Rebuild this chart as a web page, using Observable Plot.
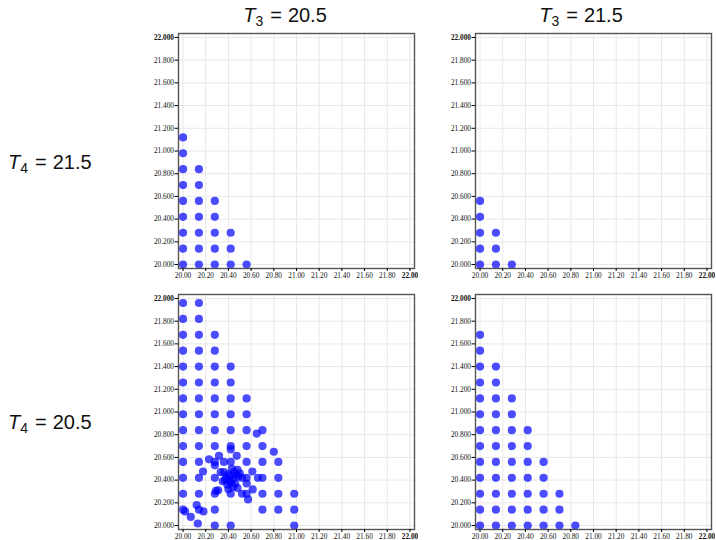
<!DOCTYPE html>
<html><head><meta charset="utf-8">
<script src="https://cdn.jsdelivr.net/npm/d3@7"></script>
<script src="https://cdn.jsdelivr.net/npm/@observablehq/plot@0.6"></script>
<style>
body{margin:0;background:#fff;}
#root{position:relative;width:716px;height:540px;overflow:hidden;}
.panel{position:absolute;}
#labels{position:absolute;left:0;top:0;}
</style></head><body><div id="root"></div>
<script>
// Column (T3) and row (T4) facet values
const colTitles = ["20.5", "21.5"];
const rowTitles = ["21.5", "20.5"];

// Tick values
const xTicks = [20.0, 20.2, 20.4, 20.6, 20.8, 21.0, 21.2, 21.4, 21.6, 21.8, 22.0];
const yTicks = [20.0, 20.2, 20.4, 20.6, 20.8, 21.0, 21.2, 21.4, 21.6, 21.8, 22.0];

// T3 = 20.5, T4 = 21.5
const pointsA = [
  [20.00,20.00],[20.00,20.14],[20.00,20.28],[20.00,20.42],[20.00,20.56],[20.00,20.70],[20.00,20.84],[20.00,20.98],[20.00,21.12],
  [20.14,20.00],[20.14,20.14],[20.14,20.28],[20.14,20.42],[20.14,20.56],[20.14,20.70],[20.14,20.84],
  [20.28,20.00],[20.28,20.14],[20.28,20.28],[20.28,20.42],[20.28,20.56],
  [20.42,20.00],[20.42,20.14],[20.42,20.28],
  [20.56,20.00]
];
// T3 = 21.5, T4 = 21.5
const pointsB = [
  [20.00,20.00],[20.00,20.14],[20.00,20.28],[20.00,20.42],[20.00,20.56],
  [20.14,20.00],[20.14,20.14],[20.14,20.28],
  [20.28,20.00]
];
// T3 = 20.5, T4 = 20.5
const pointsC = [
  [20.00,20.14],[20.00,20.28],[20.00,20.42],[20.00,20.56],[20.00,20.70],[20.00,20.84],[20.00,20.98],[20.00,21.12],[20.00,21.26],[20.00,21.40],[20.00,21.54],[20.00,21.68],[20.00,21.82],[20.00,21.96],
  [20.14,20.14],[20.14,20.28],[20.14,20.42],[20.14,20.56],[20.14,20.70],[20.14,20.84],[20.14,20.98],[20.14,21.12],[20.14,21.26],[20.14,21.40],[20.14,21.54],[20.14,21.68],[20.14,21.82],[20.14,21.96],
  [20.28,20.00],[20.28,20.14],[20.28,20.28],[20.28,20.42],[20.28,20.56],[20.28,20.70],[20.28,20.84],[20.28,20.98],[20.28,21.12],[20.28,21.26],[20.28,21.40],[20.28,21.54],[20.28,21.68],
  [20.42,20.00],[20.42,20.28],[20.42,20.56],[20.42,20.70],[20.42,20.84],[20.42,20.98],[20.42,21.12],[20.42,21.26],[20.42,21.40],
  [20.56,20.28],[20.56,20.42],[20.56,20.56],[20.56,20.70],[20.56,20.84],[20.56,20.98],[20.56,21.12],
  [20.70,20.14],[20.70,20.28],[20.70,20.42],[20.70,20.56],[20.70,20.70],[20.70,20.84],
  [20.84,20.14],[20.84,20.28],[20.84,20.42],[20.84,20.56],
  [20.98,20.00],[20.98,20.14],[20.98,20.28],
  // off-grid points
  [20.018,20.124],[20.12,20.18],[20.18,20.124],[20.068,20.076],[20.13,20.018],
  [20.29,20.305],[20.31,20.31],[20.35,20.39],[20.52,20.28],[20.573,20.23],[20.614,20.318],[20.561,20.37],
  [20.176,20.476],[20.332,20.47],[20.611,20.476],[20.66,20.42],
  [20.229,20.583],[20.317,20.614],[20.36,20.56],[20.473,20.614],[20.28,20.53],
  [20.42,20.67],[20.80,20.65],[20.65,20.81],
  // dense cluster
  [20.36,20.47],[20.38,20.42],[20.39,20.36],[20.40,20.45],[20.41,20.39],[20.42,20.44],[20.43,20.50],
  [20.44,20.41],[20.45,20.47],[20.46,20.37],[20.47,20.44],[20.48,20.49],[20.49,20.43],[20.50,20.46],
  [20.37,20.40],[20.44,20.34],[20.48,20.33],[20.40,20.32],[20.52,20.42],[20.42,20.38]
];
// T3 = 21.5, T4 = 20.5
const pointsD = [
  [20.00,20.00],[20.00,20.14],[20.00,20.28],[20.00,20.42],[20.00,20.56],[20.00,20.70],[20.00,20.84],[20.00,20.98],[20.00,21.12],[20.00,21.26],[20.00,21.40],[20.00,21.54],[20.00,21.68],
  [20.14,20.00],[20.14,20.14],[20.14,20.28],[20.14,20.42],[20.14,20.56],[20.14,20.70],[20.14,20.84],[20.14,20.98],[20.14,21.12],[20.14,21.26],[20.14,21.40],
  [20.28,20.00],[20.28,20.14],[20.28,20.28],[20.28,20.42],[20.28,20.56],[20.28,20.70],[20.28,20.84],[20.28,20.98],[20.28,21.12],
  [20.42,20.00],[20.42,20.14],[20.42,20.28],[20.42,20.42],[20.42,20.56],[20.42,20.70],[20.42,20.84],
  [20.56,20.00],[20.56,20.14],[20.56,20.28],[20.56,20.42],[20.56,20.56],
  [20.70,20.00],[20.70,20.14],[20.70,20.28],
  [20.84,20.00]
];

const root = document.getElementById("root");

function panel(points, left, top) {
  const chart = Plot.plot({
    width: 278, height: 253,
    marginLeft: 38, marginRight: 4, marginTop: 4, marginBottom: 14,
    style: {fontFamily: "'Liberation Serif', 'DejaVu Serif', serif", fontSize: "7.3px", color: "#111", background: "transparent"},
    x: {domain: [19.96, 22.04]},
    y: {domain: [19.965, 22.035]},
    marks: [
      Plot.ruleX(xTicks, {stroke: "#e8e8e8", strokeWidth: 1}),
      Plot.ruleY(yTicks, {stroke: "#e8e8e8", strokeWidth: 1}),
      Plot.dot(points, {x: d => d[0], y: d => d[1], r: 4.1, fill: "#0000ff", fillOpacity: 0.7}),
      Plot.frame({stroke: "#555", strokeWidth: 1.4}),
      Plot.axisX({ticks: xTicks, tickFormat: d => d.toFixed(2), tickSize: 3, tickPadding: 1.5, label: null, stroke: "#000"}),
      Plot.axisY({ticks: yTicks, tickFormat: d => d.toFixed(3), tickSize: 3.5, tickPadding: 1, label: null, stroke: "#000"})
    ]
  });
  d3.select(chart).selectAll("text")
    .filter(function() { return this.textContent === "22.000" || this.textContent === "22.00"; })
    .attr("font-weight", "bold");
  const div = document.createElement("div");
  div.className = "panel";
  div.style.left = left + "px";
  div.style.top = top + "px";
  div.appendChild(chart);
  root.appendChild(div);
}

panel(pointsA, 140, 29);
panel(pointsB, 436.5, 29);
panel(pointsC, 140, 289.5);
panel(pointsD, 436.5, 289.5);

// Facet titles
const svg = d3.select(root).append("svg").attr("id", "labels")
  .attr("width", 716).attr("height", 540)
  .style("font-family", "'Liberation Sans', 'DejaVu Sans', sans-serif")
  .style("font-size", "20px").attr("fill", "#111");

function mathLabel(x, y, sub, value, anchor) {
  const t = svg.append("text").attr("x", x).attr("y", y).attr("text-anchor", anchor);
  t.append("tspan").attr("font-style", "italic").text("T");
  t.append("tspan").attr("font-size", "14px").attr("dy", 4).text(sub);
  t.append("tspan").attr("dy", -4).attr("dx", 7).text("=");
  t.append("tspan").attr("dx", 6).text(value);
}
mathLabel(285, 22, "3", colTitles[0], "middle");
mathLabel(581, 22, "3", colTitles[1], "middle");
mathLabel(8, 169, "4", rowTitles[0], "start");
mathLabel(8, 429, "4", rowTitles[1], "start");
</script></body></html>
